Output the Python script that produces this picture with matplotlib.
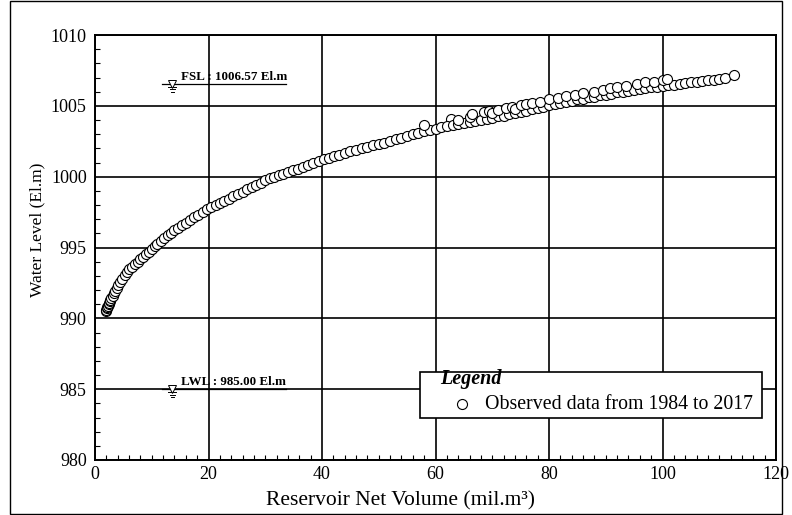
import matplotlib
matplotlib.use("Agg")
import matplotlib.pyplot as plt
from matplotlib.patches import Rectangle
from matplotlib.ticker import MultipleLocator

plt.rcParams['font.family'] = ['Liberation Serif', 'DejaVu Serif']

# Observed reservoir storage (mil.m3) and water level (El.m)
volume = [
    1.9, 2.0, 2.1, 2.2, 2.3, 2.4, 2.5, 2.6, 2.7, 2.9, 3.1, 3.3, 3.5, 3.8, 4.1,
    4.4, 4.8, 5.2, 5.6, 6.0, 6.5, 7.0, 7.5, 8.0, 8.5, 9.0, 9.5, 10.0, 10.5,
    11.0, 11.6, 12.2, 12.8, 13.4, 14.0, 14.7, 15.4, 16.0, 16.8, 17.5, 18.2,
    19.0, 19.8, 20.5, 21.3, 22.0, 22.8, 23.6, 24.4, 25.2, 26.0, 26.8, 27.6,
    28.4, 29.2, 30.0, 30.8,
    31.6, 32.4, 33.2, 34.0, 34.9, 35.8, 36.7, 37.6, 38.5, 39.4, 40.3, 41.2,
    42.1, 43.0, 44.0, 45.0, 46.0, 47.0, 48.0, 49.0, 50.0, 51.0, 52.0, 53.0,
    54.0, 55.0, 56.0, 57.0, 58.0, 59.0, 60.0, 58.0, 62.8,
    61, 62, 63, 64, 65, 66, 67, 68, 69, 70, 71, 72, 73, 74, 75, 76, 77, 78,
    79, 80, 81, 82, 83, 84, 85, 86, 87, 88, 89, 90, 91, 92, 93, 94, 95, 96,
    97, 98, 99, 100, 101, 102, 103, 104, 105, 106, 107, 108, 109, 110, 111,
    112.6,
    64.0, 66.0, 66.5, 68.5, 69.5, 70.0, 71.0, 72.5, 73.5, 74.0, 75.0, 76.0,
    77.0, 78.5, 80.0, 81.5, 83.0, 84.5, 86.0, 88.0, 89.5, 90.8, 92.0, 93.5,
    95.5, 97.0, 98.5, 100.0, 100.8,
]
level = [
    990.5, 990.6, 990.7, 990.8, 990.9, 991.0, 991.1, 991.2, 991.3, 991.45,
    991.6, 991.8, 991.95, 992.15, 992.35, 992.55, 992.8, 993.05, 993.25,
    993.45, 993.65, 993.85, 994.0, 994.2, 994.35, 994.55, 994.7, 994.9, 995.1,
    995.25, 995.45, 995.65, 995.85, 996.05, 996.2, 996.4, 996.6, 996.75,
    996.95, 997.15, 997.3, 997.5, 997.7, 997.85, 998.0, 998.15, 998.3, 998.45,
    998.6, 998.8, 998.95, 999.1, 999.25, 999.4, 999.55, 999.75, 999.9,
    1000.0, 1000.1, 1000.2, 1000.3, 1000.45, 1000.55, 1000.7, 1000.85, 1001.0,
    1001.1, 1001.25, 1001.35, 1001.45, 1001.55, 1001.65, 1001.8, 1001.9,
    1002.0, 1002.1, 1002.2, 1002.3, 1002.4, 1002.5, 1002.65, 1002.75, 1002.9,
    1003.0, 1003.1, 1003.2, 1003.3, 1003.4, 1003.65, 1004.05,
    1003.5, 1003.55, 1003.65, 1003.7, 1003.8, 1003.85, 1003.95, 1004.0,
    1004.1, 1004.15, 1004.25, 1004.3, 1004.4, 1004.5, 1004.55, 1004.65,
    1004.75, 1004.85, 1004.95, 1005.05, 1005.1, 1005.2, 1005.3, 1005.35,
    1005.45, 1005.5, 1005.6, 1005.65, 1005.75, 1005.8, 1005.85, 1005.95,
    1006.0, 1006.05, 1006.15, 1006.2, 1006.25, 1006.3, 1006.35, 1006.4,
    1006.45, 1006.5, 1006.55, 1006.6, 1006.65, 1006.7, 1006.75, 1006.8,
    1006.85, 1006.9, 1007.0, 1007.2,
    1004.0, 1004.2, 1004.45, 1004.55, 1004.65, 1004.5, 1004.7, 1004.85,
    1004.95, 1004.75, 1005.05, 1005.15, 1005.2, 1005.3, 1005.45, 1005.55,
    1005.7, 1005.8, 1005.9, 1006.0, 1006.1, 1006.25, 1006.3, 1006.4, 1006.55,
    1006.65, 1006.7, 1006.8, 1006.92,
]

fsl = 1006.57
lwl = 985.00
x_ticks = [0, 20, 40, 60, 80, 100, 120]
y_ticks = [980, 985, 990, 995, 1000, 1005, 1010]
series_label = 'Observed data from 1984 to 2017'

fig = plt.figure(figsize=(7.92, 5.15), dpi=100)
ax = fig.add_axes([95 / 792, 55 / 515, 681 / 792, 425 / 515])

ax.set_xlim(0, 120)
ax.set_ylim(980, 1010)
ax.set_xticks(x_ticks)
ax.set_yticks(y_ticks)
ax.xaxis.set_minor_locator(MultipleLocator(2))
ax.yaxis.set_minor_locator(MultipleLocator(1))
ax.tick_params(which='both', direction='in', top=False, right=False,
               labelsize=13, colors='black')
ax.tick_params(which='major', length=0, pad=6)
ax.tick_params(which='minor', length=3.5, width=0.8)
ax.tick_params(axis='x', pad=4)
for sp in ax.spines.values():
    sp.set_linewidth(1.4)

ax.grid(which='major', color='black', linewidth=1.2)
ax.set_axisbelow(True)

ax.scatter(volume, level, s=52, facecolor='white', edgecolor='black',
           linewidth=0.8, zorder=3)

ax.set_xlabel('Reservoir Net Volume (mil.m³)', fontsize=15.5, va='center')
ax.set_ylabel('Water Level (El.m)', fontsize=12.5, va='center')
ax.xaxis.set_label_coords(0.449, -0.095)
ax.yaxis.set_label_coords(-0.084, 0.541)


def water_mark(value, text):
    ax.plot([11.8, 33.6], [value, value], color='black', lw=0.9, zorder=4)
    ax.plot([13.6], [value], marker='v', ms=5.5, mfc='white', mec='black',
            mew=0.7, zorder=5)
    for dy, half in [(0.22, 0.7), (0.4, 0.45), (0.57, 0.25)]:
        ax.plot([13.6 - half, 13.6 + half], [value - dy, value - dy],
                color='black', lw=0.7, zorder=4)
    ax.text(15.2, value + 0.06, text, fontsize=9.4, fontweight='bold',
            ha='left', va='bottom', zorder=5)


water_mark(fsl, f'FSL : {fsl:.2f} El.m')
water_mark(lwl, f'LWL : {lwl:.2f} El.m')

# Legend box drawn in data coordinates of the lower-right corner
ax.add_patch(Rectangle((57.27, 982.97), 117.5 - 57.27, 986.21 - 982.97,
                       facecolor='white', edgecolor='black', linewidth=1.2,
                       zorder=6))
ax.text(60.8, 985.7, 'Legend', fontsize=14.5, fontweight='bold',
        fontstyle='italic', ha='left', va='center', zorder=7)
ax.scatter([64.67], [983.95], s=52, facecolor='white', edgecolor='black',
           linewidth=0.8, zorder=7)
ax.text(68.7, 983.9, series_label, fontsize=14.3, ha='left', va='center',
        zorder=7)

fig.patches.append(Rectangle((10 / 792, 0.002), 772 / 792, 0.996,
                             transform=fig.transFigure, fill=False,
                             edgecolor='black', linewidth=1.0))

fig.savefig('out.png', dpi=100)
